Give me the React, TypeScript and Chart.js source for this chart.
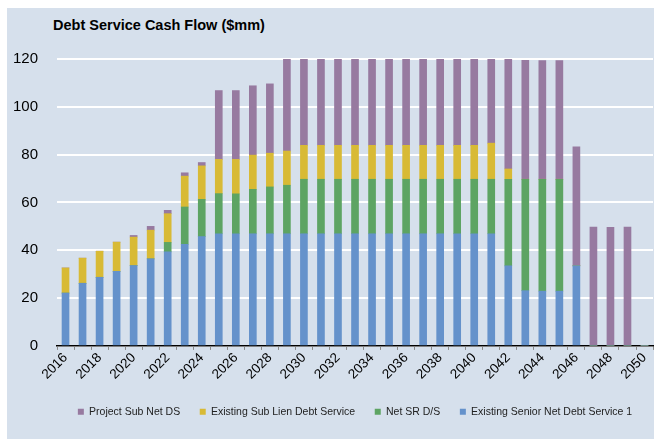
import React, { useEffect, useRef } from "react";
import { Chart, registerables } from "chart.js";

Chart.register(...registerables);

const years: string[] = [
  "2016","2017","2018","2019","2020","2021","2022","2023","2024","2025",
  "2026","2027","2028","2029","2030","2031","2032","2033","2034","2035",
  "2036","2037","2038","2039","2040","2041","2042","2043","2044","2045",
  "2046","2047","2048","2049","2050",
];

const existingSenior: number[] = [
  22.1, 26.2, 28.7, 31.2, 33.6, 36.4, 39.3, 42.5, 45.7, 46.9,
  46.9, 46.9, 46.9, 46.9, 46.9, 46.9, 46.9, 46.9, 46.9, 46.9,
  46.9, 46.9, 46.9, 46.9, 46.9, 46.9, 33.5, 23.1, 22.9, 22.9,
  33.5, 0, 0, 0, 0,
];

const netSR: number[] = [
  0, 0, 0, 0, 0, 0, 4.0, 15.6, 15.6, 16.8,
  16.7, 18.6, 19.6, 20.3, 22.8, 22.8, 22.8, 22.8, 22.8, 22.8,
  22.8, 22.8, 22.8, 22.8, 22.8, 22.8, 36.2, 46.6, 46.8, 46.8,
  0, 0, 0, 0, 0,
];

const existingSubLien: number[] = [
  10.5, 10.5, 10.9, 12.2, 11.9, 12.0, 12.0, 12.9, 14.0, 14.3,
  14.4, 14.3, 14.1, 14.3, 14.2, 14.2, 14.2, 14.2, 14.2, 14.2,
  14.2, 14.2, 14.2, 14.2, 14.2, 15.1, 4.3, 0, 0, 0,
  0, 0, 0, 0, 0,
];

const projectSub: number[] = [
  0, 0, 0, 0, 0.7, 1.6, 1.4, 1.4, 1.4, 28.8,
  28.8, 29.0, 29.0, 38.6, 36.1, 36.1, 36.1, 36.1, 36.1, 36.1,
  36.1, 36.1, 36.1, 36.1, 36.1, 35.2, 46.0, 49.7, 49.6, 49.6,
  49.8, 49.7, 49.6, 49.7, 0,
];

const yTicks = { min: 0, max: 120, step: 20 };
const title = "Debt Service Cash Flow ($mm)";

const FONT = "'Liberation Sans', Arial, sans-serif";

export default function App() {
  const ref = useRef<HTMLCanvasElement | null>(null);

  useEffect(() => {
    if (!ref.current) return;
    const chart = new Chart(ref.current, {
      type: "bar",
      data: {
        labels: years,
        datasets: [
          { label: "Existing Senior Net Debt Service 1", data: existingSenior, backgroundColor: "#6592cb" },
          { label: "Net SR D/S", data: netSR, backgroundColor: "#5da463" },
          { label: "Existing Sub Lien Debt Service", data: existingSubLien, backgroundColor: "#d8ba35" },
          { label: "Project Sub Net DS", data: projectSub, backgroundColor: "#977aa0" },
        ],
      },
      options: {
        animation: false,
        responsive: false,
        maintainAspectRatio: false,
        layout: { padding: { top: 59, right: 2, left: 0, bottom: 0 } },
        datasets: { bar: { barThickness: 7, borderWidth: 0 } },
        scales: {
          x: {
            stacked: true,
            offset: true,
            grid: {
              offset: true,
              drawOnChartArea: false,
              drawTicks: true,
              tickLength: 4,
              color: "#8a8a8a",
            },
            border: { display: true, color: "#000", width: 1.5 },
            ticks: {
              autoSkip: false,
              maxRotation: 45,
              minRotation: 45,
              padding: 0,
              color: "#000",
              font: { family: FONT, size: 13.5 },
              callback: function (this: any, _v: any, i: number) {
                return i % 2 === 0 ? years[i] : "";
              },
            },
            afterFit: (s: any) => { s.height = 41; },
          },
          y: {
            stacked: true,
            min: yTicks.min,
            max: yTicks.max,
            grid: { color: "#ffffff", lineWidth: 2, drawTicks: false },
            border: { display: false },
            ticks: {
              stepSize: yTicks.step,
              padding: 19,
              color: "#000",
              font: { family: FONT, size: 15 },
            },
            afterFit: (s: any) => { s.width = 57; },
          },
        },
        plugins: {
          legend: {
            display: true,
            position: "bottom",
            reverse: true,
            fullSize: false,
            labels: {
              boxWidth: 6,
              boxHeight: 6,
              padding: 19.6,
              color: "#222",
              font: { family: FONT, size: 10.5 },
            },
          },
          tooltip: { enabled: false },
          title: { display: false },
        },
      },
    });
    return () => chart.destroy();
  }, []);

  return (
    <div style={{ position: "absolute", left: 0, top: 0, width: 656, height: 443, overflow: "hidden", background: "#ffffff" }}>
      <div style={{ position: "absolute", left: 7, top: 8, width: 647, height: 431, background: "#d6e0ec" }} />
      <div style={{ position: "absolute", left: 53, top: 17, font: `bold 14.5px ${FONT}`, color: "#000", whiteSpace: "nowrap" }}>
        {title}
      </div>
      <canvas ref={ref} width={656} height={427} style={{ position: "absolute", left: 0, top: 0, width: 656, height: 427 }} />
    </div>
  );
}
